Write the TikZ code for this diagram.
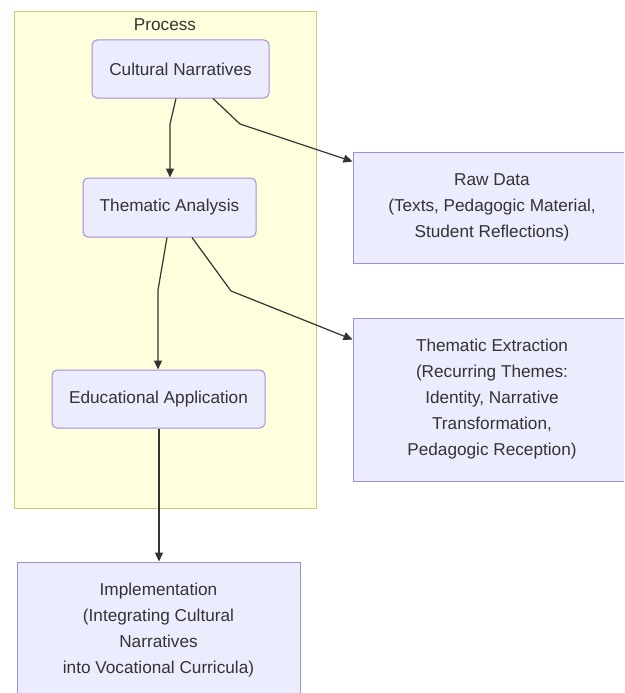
\documentclass[tikz,border=0pt]{standalone}
\usepackage{fontspec}
\setmainfont{Liberation Sans}
\usetikzlibrary{arrows.meta,calc}
\definecolor{nodefill}{HTML}{ECECFF}
\definecolor{nodeline}{HTML}{A08CDC}
\definecolor{clusterfill}{HTML}{FFFFDE}
\definecolor{clusterline}{HTML}{CCCC77}
\definecolor{txt}{HTML}{333333}
\tikzset{
  base/.style={draw=nodeline, fill=nodefill, line width=1pt, text=txt, align=center,
    font=\fontsize{17.2pt}{26pt}\selectfont, inner sep=0pt},
  procbox/.style={base, rounded corners=5pt},
  sidebox/.style={base},
  link/.style={draw=txt, line width=1.2pt, -{Triangle[length=9pt,width=8pt]}},
}
\begin{document}
\begin{tikzpicture}[x=1pt,y=-1pt]
\useasboundingbox (0,0) rectangle (624,693);
\clip (0,0) rectangle (624,693);
\fill[white] (0,0) rectangle (624,693);
% cluster
\draw[draw=clusterline, fill=clusterfill, line width=1pt] (14,12) rectangle (316,508);
\node[text=txt, font=\fontsize{17.2pt}{20pt}\selectfont] (ptitle) at (165,25) {Process};
% nodes
\node[procbox, minimum width=177pt, minimum height=58pt] (cn) at (180.5,69) {Cultural Narratives};
\node[procbox, minimum width=173pt, minimum height=59pt] (ta) at (169.5,207.5) {Thematic Analysis};
\node[procbox, minimum width=213pt, minimum height=58pt] (ea) at (158.5,399) {Educational Application};
\node[sidebox, minimum width=278pt, minimum height=111pt] (rd) at (492,207.5) {Raw Data\\(Texts, Pedagogic Material,\\Student Reflections)};
\node[sidebox, minimum width=278pt, minimum height=163pt] (te) at (492,399.5) {Thematic Extraction\\(Recurring Themes:\\Identity, Narrative\\Transformation,\\Pedagogic Reception)};
\node[sidebox, minimum width=283pt, minimum height=137pt] (im) at (158.5,630.5) {Implementation\\(Integrating Cultural\\Narratives\\into Vocational Curricula)};
% connectors
\coordinate (b1) at (170,124);
\coordinate (b2) at (240,124);
\coordinate (b3) at (158,290);
\coordinate (b4) at (231,291);
\draw[link] ([xshift=-4.5pt]cn.south) -- (b1) -- (b1 |- ta.north);
\draw[link] ([xshift=32.5pt]cn.south) -- (b2) -- ([yshift=-10pt]rd.north west);
\draw[link] ([xshift=-2.5pt]ta.south) -- (b3) -- (b3 |- ea.north);
\draw[link] ([xshift=22.5pt]ta.south) -- (b4) -- ([yshift=-22pt]te.north west);
\draw[link] ([xshift=0.5pt]ea.south) -- ([xshift=0.5pt]im.north);
\end{tikzpicture}
\end{document}
